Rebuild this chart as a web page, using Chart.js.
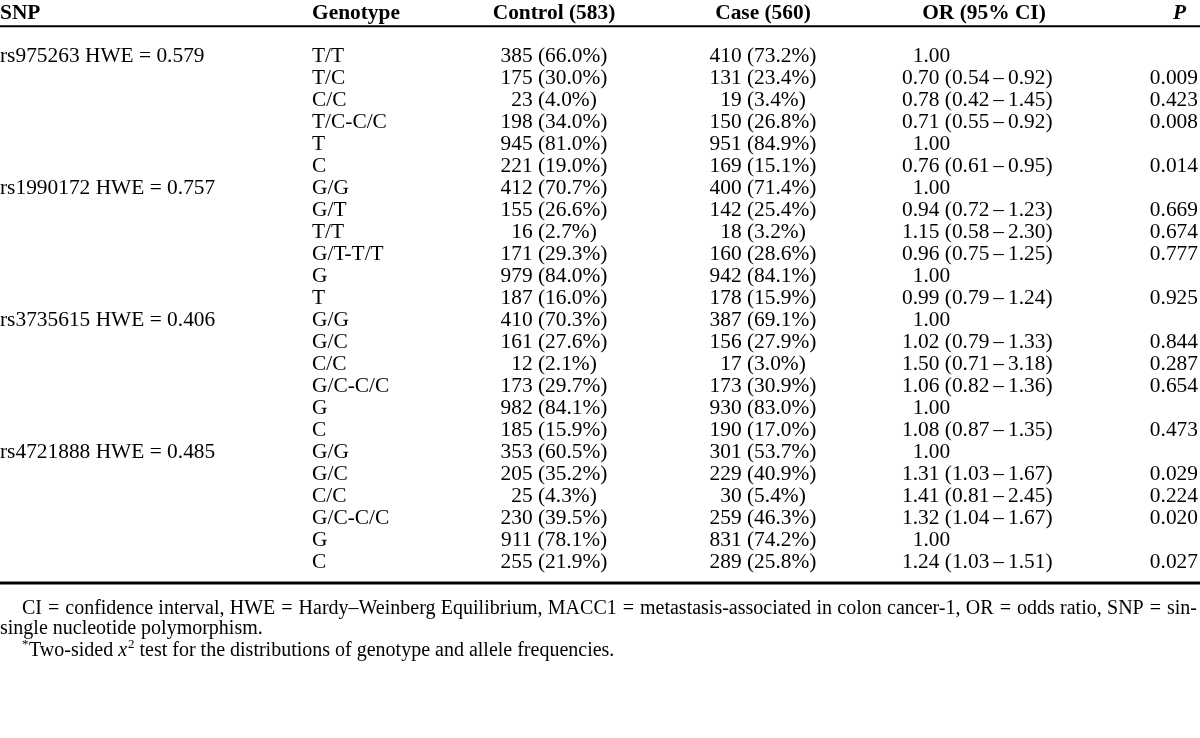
<!DOCTYPE html>
<html>
<head>
<meta charset="utf-8">
<script src="https://cdn.jsdelivr.net/npm/chart.js@4.4.1/dist/chart.umd.min.js"></script>
<style>
html, body { margin: 0; padding: 0; background: #fff; }
#wrap { width: 1200px; height: 738px; }
</style>
</head>
<body>
<div id="wrap"><canvas id="tbl" width="1200" height="738"></canvas></div>
<script>
const headers = ['SNP', 'Genotype', 'Control (583)', 'Case (560)', 'OR (95% CI)', 'P'];
const snpLabels = ['rs975263 HWE = 0.579', 'rs1990172 HWE = 0.757', 'rs3735615 HWE = 0.406', 'rs4721888 HWE = 0.485'];
const genotypes = [
    'T/T', 'T/C', 'C/C', 'T/C-C/C', 'T', 'C',
    'G/G', 'G/T', 'T/T', 'G/T-T/T', 'G', 'T',
    'G/G', 'G/C', 'C/C', 'G/C-C/C', 'G', 'C',
    'G/G', 'G/C', 'C/C', 'G/C-C/C', 'G', 'C'
];
const controlVals = [
    '385 (66.0%)', '175 (30.0%)', '23 (4.0%)', '198 (34.0%)', '945 (81.0%)', '221 (19.0%)',
    '412 (70.7%)', '155 (26.6%)', '16 (2.7%)', '171 (29.3%)', '979 (84.0%)', '187 (16.0%)',
    '410 (70.3%)', '161 (27.6%)', '12 (2.1%)', '173 (29.7%)', '982 (84.1%)', '185 (15.9%)',
    '353 (60.5%)', '205 (35.2%)', '25 (4.3%)', '230 (39.5%)', '911 (78.1%)', '255 (21.9%)'
];
const caseVals = [
    '410 (73.2%)', '131 (23.4%)', '19 (3.4%)', '150 (26.8%)', '951 (84.9%)', '169 (15.1%)',
    '400 (71.4%)', '142 (25.4%)', '18 (3.2%)', '160 (28.6%)', '942 (84.1%)', '178 (15.9%)',
    '387 (69.1%)', '156 (27.9%)', '17 (3.0%)', '173 (30.9%)', '930 (83.0%)', '190 (17.0%)',
    '301 (53.7%)', '229 (40.9%)', '30 (5.4%)', '259 (46.3%)', '831 (74.2%)', '289 (25.8%)'
];
const orVals = [
    '1.00', '0.70 (0.54\u20130.92)', '0.78 (0.42\u20131.45)', '0.71 (0.55\u20130.92)', '1.00', '0.76 (0.61\u20130.95)',
    '1.00', '0.94 (0.72\u20131.23)', '1.15 (0.58\u20132.30)', '0.96 (0.75\u20131.25)', '1.00', '0.99 (0.79\u20131.24)',
    '1.00', '1.02 (0.79\u20131.33)', '1.50 (0.71\u20133.18)', '1.06 (0.82\u20131.36)', '1.00', '1.08 (0.87\u20131.35)',
    '1.00', '1.31 (1.03\u20131.67)', '1.41 (0.81\u20132.45)', '1.32 (1.04\u20131.67)', '1.00', '1.24 (1.03\u20131.51)'
];
const pVals = [
    '', '0.009', '0.423', '0.008', '', '0.014',
    '', '0.669', '0.674', '0.777', '', '0.925',
    '', '0.844', '0.287', '0.654', '', '0.473',
    '', '0.029', '0.224', '0.020', '', '0.027'
];
const footnote1 = 'CI = confidence interval, HWE = Hardy\u2013Weinberg Equilibrium, MACC1 = metastasis-associated in colon cancer-1, OR = odds ratio, SNP = sin-';
const footnote2 = 'single nucleotide polymorphism.';
const footnote3 = ['Two-sided ', 'x', '2', ' test for the distributions of genotype and allele frequencies.'];

// column anchors (x scale units) and row layout (y scale units)
const colX = [0, 312, 554, 763, 902, 1198];
const colAlign = ['left', 'left', 'center', 'center', 'left', 'right'];
const headerRow = -1.95, topRule = -1.36, bottomRule = 23.95;
const noteRows = [25.1, 26.05, 27.05];

const FONT = '"Liberation Serif", "Times New Roman", serif';
const SIZE = '21.4px ';
const NOTE = '20px ';

function column(texts, i) {
    return {
        label: headers[i],
        texts: texts,
        align: colAlign[i],
        data: texts.map((t, r) => ({ x: colX[i], y: r })),
        pointRadius: 0,
        showLine: false
    };
}

const snpCol = column(snpLabels, 0);
snpCol.data = snpLabels.map((t, k) => ({ x: colX[0], y: k * 6 }));

// draw a string, giving the en dash a little air
function airText(ctx, t, x, y, pad) {
    const parts = t.split(/(\u2013)/);
    parts.forEach(p => {
        if (p === '\u2013') {
            x += pad;
            ctx.fillText(p, x, y);
            x += ctx.measureText(p).width + pad;
        } else {
            ctx.fillText(p, x, y);
            x += ctx.measureText(p).width;
        }
    });
}

const tablePlugin = {
    id: 'tableText',
    afterDatasetsDraw(chart) {
        const ctx = chart.ctx;
        const xs = chart.scales.x, ys = chart.scales.y;
        ctx.save();
        ctx.fillStyle = '#000';
        ctx.textBaseline = 'middle';

        // body cells
        ctx.font = SIZE + FONT;
        const zeroW = ctx.measureText('0').width;
        chart.data.datasets.forEach((ds, di) => {
            const meta = chart.getDatasetMeta(di);
            ctx.textAlign = ds.align;
            meta.data.forEach((pt, r) => {
                const t = ds.texts[r];
                let x = pt.x;
                if (di === 4) {
                    if (t === '1.00') x += zeroW;
                    airText(ctx, t, x, pt.y, 4);
                } else {
                    ctx.fillText(t, x, pt.y);
                }
            });
        });

        // header
        headers.forEach((h, i) => {
            ctx.font = (i === 5 ? 'italic bold ' : 'bold ') + SIZE + FONT;
            ctx.textAlign = colAlign[i];
            let x = xs.getPixelForValue(colX[i]);
            if (i === 4) { ctx.textAlign = 'center'; x = xs.getPixelForValue(984); }
            if (i === 5) x -= 12;
            ctx.fillText(h, x, ys.getPixelForValue(headerRow));
        });

        // rules
        const x0 = xs.getPixelForValue(0), x1 = xs.getPixelForValue(1200);
        ctx.lineWidth = 2;
        ctx.beginPath();
        ctx.moveTo(x0, ys.getPixelForValue(topRule));
        ctx.lineTo(x1, ys.getPixelForValue(topRule));
        ctx.stroke();
        ctx.lineWidth = 3;
        ctx.beginPath();
        ctx.moveTo(x0, ys.getPixelForValue(bottomRule));
        ctx.lineTo(x1, ys.getPixelForValue(bottomRule));
        ctx.stroke();

        // footnotes: first line justified, "=" keeps a fixed gap to its neighbours
        ctx.font = NOTE + FONT;
        ctx.textAlign = 'left';
        const words = footnote1.split(' ');
        const left = 22, right = 1197, eqGap = 6;
        let wsum = 0, fixed = 0, loose = 0;
        words.forEach((w, k) => {
            wsum += ctx.measureText(w).width;
            if (k < words.length - 1) {
                if (w === '=' || words[k + 1] === '=') fixed += eqGap; else loose++;
            }
        });
        const gap = (right - left - wsum - fixed) / loose;
        let cx = left;
        const y1 = ys.getPixelForValue(noteRows[0]);
        words.forEach((w, k) => {
            ctx.fillText(w, cx, y1);
            cx += ctx.measureText(w).width;
            if (k < words.length - 1) cx += (w === '=' || words[k + 1] === '=') ? eqGap : gap;
        });

        ctx.fillText(footnote2, 0, ys.getPixelForValue(noteRows[1]));

        const y3 = ys.getPixelForValue(noteRows[2]);
        ctx.font = '13px ' + FONT;
        ctx.fillText('*', 22, y3 - 7);
        let px = 29;
        ctx.font = NOTE + FONT;
        ctx.fillText(footnote3[0], px, y3); px += ctx.measureText(footnote3[0]).width;
        ctx.font = 'italic ' + NOTE + FONT;
        ctx.fillText(footnote3[1], px, y3); px += ctx.measureText(footnote3[1]).width + 1;
        ctx.font = '13px ' + FONT;
        ctx.fillText(footnote3[2], px, y3 - 7); px += ctx.measureText(footnote3[2]).width;
        ctx.font = NOTE + FONT;
        ctx.fillText(footnote3[3], px, y3);
        ctx.restore();
    }
};

const ctx = document.getElementById('tbl').getContext('2d');
const tableChart = new Chart(ctx, {
    type: 'scatter',
    data: {
        datasets: [
            snpCol,
            column(genotypes, 1),
            column(controlVals, 2),
            column(caseVals, 3),
            column(orVals, 4),
            column(pVals, 5)
        ]
    },
    options: {
        responsive: false,
        maintainAspectRatio: false,
        animation: false,
        layout: { padding: 0 },
        plugins: { legend: { display: false }, tooltip: { enabled: false } },
        scales: {
            x: { type: 'linear', display: false, min: 0, max: 1200 },
            y: { type: 'linear', display: false, reverse: true, min: -2.55, max: 30.995 }
        }
    },
    plugins: [tablePlugin]
});
</script>
</body>
</html>
